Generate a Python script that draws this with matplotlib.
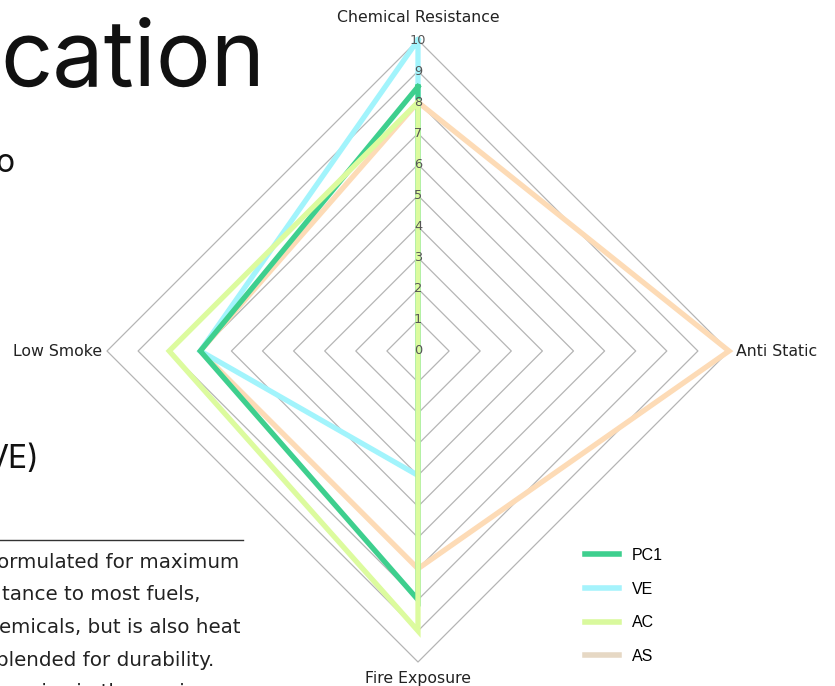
import numpy as np
import matplotlib
matplotlib.use("Agg")
import matplotlib.pyplot as plt
from matplotlib.lines import Line2D

# ---- data ----
categories = ["Chemical Resistance", "Anti Static", "Fire Exposure", "Low Smoke"]
series_names = ["PC1", "VE", "AC", "AS"]
pc1 = [8.5, 0, 8, 7]
ve = [10, 0, 4, 7]
ac = [8, 0, 9, 8]
as_vals = [8, 10, 7, 7]
tick_values = list(range(0, 11))

line_colors = {"PC1": "#3ecf8e", "VE": "#a2f4fc", "AC": "#dcfb9e", "AS": "#fddbb6"}
legend_colors = {"PC1": "#3ecf8e", "VE": "#a5f3fc", "AC": "#d9f99d", "AS": "#e6d8c4"}
zorders = {"PC1": 4, "VE": 3, "AC": 5, "AS": 2}

W, H = 835, 686
fig = plt.figure(figsize=(W / 100, H / 100), dpi=100)
fig.patch.set_facecolor("white")

FONT = ["DejaVu Sans"]
BIG = ["Inter", "DejaVu Sans"]

# ---- background page text (clipped) ----
fig.text(0 / W, 1 - 86 / H, "cation", fontsize=66, family=BIG,
         color="#111111", ha="left", va="baseline")
fig.text(-5 / W, 1 - 172 / H, "o", fontsize=23, family=BIG,
         color="#111111", ha="left", va="baseline")
fig.text(-14 / W, 1 - 468 / H, "VE)", fontsize=23, family=BIG,
         color="#111111", ha="left", va="baseline")
fig.add_artist(Line2D([0, 243 / W], [1 - 540 / H, 1 - 540 / H], color="#333333", lw=1,
                      transform=fig.transFigure))
para = ["ormulated for maximum", "tance to most fuels,", "emicals, but is also heat",
        "blended for durability.", "mains in the marine"]
para_x = [-3, 2, -1, -4, 10]
for i, (ln, px) in enumerate(zip(para, para_x)):
    fig.text(px / W, 1 - (568 + 32.5 * i) / H, ln, fontsize=14.3, family=FONT,
             color="#222222", ha="left", va="baseline")

# ---- radar ----
cx, cy, R = 418, 351, 311
ax = fig.add_axes([(cx - R) / W, 1 - (cy + R) / H, 2 * R / W, 2 * R / H], projection="polar")
ax.set_theta_zero_location("N")
ax.set_theta_direction(-1)
ax.set_ylim(0, 10)
ax.set_facecolor("none")
ax.grid(False)
ax.spines["polar"].set_visible(False)
ax.set_xticks([])
ax.set_yticks([])

n = len(categories)
angles = np.linspace(0, 2 * np.pi, n, endpoint=False)
closed_angles = np.concatenate([angles, angles[:1]])

for lvl in tick_values[1:]:
    ax.plot(closed_angles, [lvl] * (n + 1), color="#b5b5b5", lw=0.9, zorder=1, clip_on=False)

data = {"PC1": pc1, "VE": ve, "AC": ac, "AS": as_vals}
for name in series_names:
    vals = data[name] + data[name][:1]
    ax.plot(closed_angles, vals, color=line_colors[name], lw=3.8, zorder=zorders[name],
            clip_on=False, solid_joinstyle="miter")

for v in tick_values:
    ax.text(0, v, str(v), ha="center", va="center", fontsize=9.3, color="#555555",
            family=FONT, zorder=6)

label_offsets = [(0, 22, "center", "center"), (7, 0, "left", "center"),
                 (0, -16, "center", "center"), (-5, 0, "right", "center")]
for ang, lab, (dx, dy, ha, va) in zip(angles, categories, label_offsets):
    ax.annotate(lab, xy=(ang, 10), xytext=(dx, dy), textcoords="offset pixels",
                ha=ha, va=va, fontsize=11.3, family=FONT, color="#222222",
                annotation_clip=False)

handles = [Line2D([0], [0], color=legend_colors[nm], lw=4) for nm in series_names]
fig.legend(handles, series_names, loc="upper left",
           bbox_to_anchor=(585 / W, 1 - 548 / H), frameon=False,
           prop={"family": ["Liberation Sans", "DejaVu Sans"], "size": 11.5},
           handlelength=2.1, handletextpad=0.85, labelspacing=1.17, borderpad=0,
           borderaxespad=0)

fig.savefig("out.png", dpi=100, facecolor="white")
